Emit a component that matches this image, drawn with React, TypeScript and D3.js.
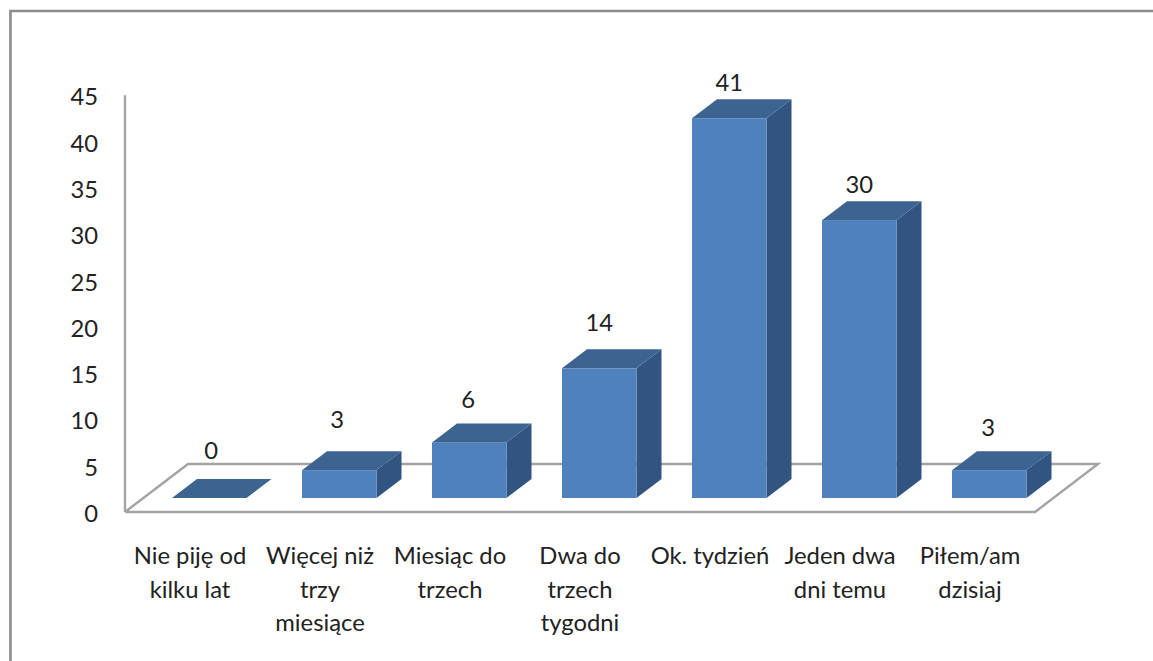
import React from "react";
import * as d3 from "d3";

const categories = ["Nie piję od", "Więcej niż", "Miesiąc do", "Dwa do", "Ok. tydzień", "Jeden dwa", "Piłem/am"];
const categoryLines = [
  ["Nie piję od", "kilku lat"],
  ["Więcej niż", "trzy", "miesiące"],
  ["Miesiąc do", "trzech"],
  ["Dwa do", "trzech", "tygodni"],
  ["Ok. tydzień"],
  ["Jeden dwa", "dni temu"],
  ["Piłem/am", "dzisiaj"],
];
const values = [0, 3, 6, 14, 41, 30, 3];
const yTicks = [0, 5, 10, 15, 20, 25, 30, 35, 40, 45];

const W = 1153, H = 661;
const FONT = "Lato, 'Open Sans', sans-serif";
const FS = 23.8;
const floorLeft = 125, floorRight = 1035, floorFront = 512;
const depthX = 63, depthY = 48;
const barDX = 25, barDY = 19;
const barBase = 498;
const unit = 9.262;
const barW = 74.5;
const barInset = 47;
const labelGap = [28.5, 32, 24, 27, 17, 16.5, 24];
const labelDX = [2, -2, -1, 0, 0, 0, -1];

export default function App() {
  const x = d3.scaleBand<number>().domain(d3.range(categories.length)).range([floorLeft, floorRight]);
  const yBar = d3.scaleLinear().domain([0, 45]).range([barBase, barBase - 45 * unit]);
  const yAxis = d3.scaleLinear().domain([0, 45]).range([floorFront, floorFront - 45 * unit]);
  const line = d3.line();

  const floor = line([
    [floorLeft, floorFront],
    [floorRight, floorFront],
    [floorRight + depthX, floorFront - depthY],
    [floorLeft + depthX, floorFront - depthY],
    [floorLeft, floorFront],
  ])!;
  const wall = line([[floorLeft, yAxis(45)], [floorLeft, floorFront]])!;

  return (
    <svg width={W} height={H} style={{ position: "absolute", left: 0, top: 0, background: "#fff" }}>
      <path d={`M${W},11H10.5V${H}`} fill="none" stroke="#8c8c8c" strokeWidth={2.6} />
      <path d={floor} fill="none" stroke="#a3a3a3" strokeWidth={2.4} strokeLinejoin="miter" />
      <path d={wall} fill="none" stroke="#a3a3a3" strokeWidth={2.4} />
      {yTicks.map((t) => (
        <text key={t} x={98} y={yAxis(t) + 1.5} dy="0.36em" textAnchor="end" fontFamily={FONT} fontSize={FS} fill="#222">
          {t}
        </text>
      ))}
      {values.map((v, i) => {
        const x0 = x(i)! + barInset;
        const x1 = x0 + barW;
        const top = yBar(v);
        const side = line([[x1, barBase], [x1 + barDX, barBase - barDY], [x1 + barDX, top - barDY], [x1, top]])!;
        const cap = line([[x0, top], [x1, top], [x1 + barDX, top - barDY], [x0 + barDX, top - barDY]])!;
        return (
          <g key={i}>
            {v > 0 && <path d={side} fill="#325480" />}
            {v > 0 && <rect x={x0} y={top} width={barW} height={barBase - top} fill="#4f81bd" />}
            <path d={cap} fill="#3d6390" />
            <text
              x={(x0 + x1) / 2 + labelDX[i]}
              y={top - barDY - labelGap[i]}
              dy="0.36em"
              textAnchor="middle"
              fontFamily={FONT}
              fontSize={FS}
              fill="#222"
            >
              {v}
            </text>
          </g>
        );
      })}
      {categoryLines.map((lines, i) => (
        <text
          key={i}
          textAnchor="middle"
          fontFamily={FONT}
          fontSize={FS}
          fill="#222"
          x={x(i)! + x.bandwidth() / 2}
        >
          {lines.map((l, j) => (
            <tspan key={j} x={x(i)! + x.bandwidth() / 2} y={564 + j * 33.5}>
              {l}
            </tspan>
          ))}
        </text>
      ))}
    </svg>
  );
}
